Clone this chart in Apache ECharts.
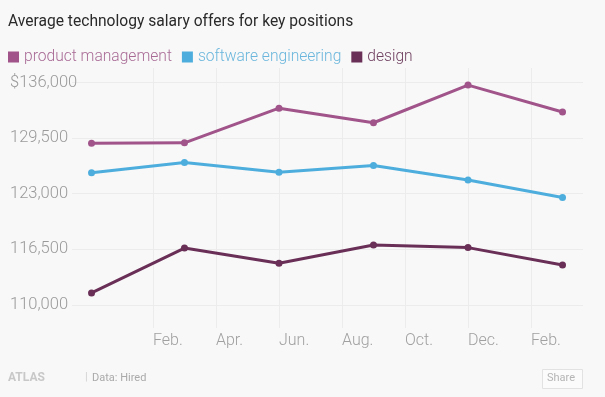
<!DOCTYPE html>
<html>
<head>
<meta charset="utf-8">
<script src="https://cdn.jsdelivr.net/npm/echarts@6/dist/echarts.min.js"></script>
<style>
  html, body { margin: 0; padding: 0; background: #f8f8f8; }
  #chart { width: 605px; height: 397px; }
</style>
</head>
<body>
<div id="chart"></div>
<script>
  // months counted from Dec. of the first year (Feb. = 2)
  var months = [0.05, 3, 6, 9, 12, 15];
  var productManagement = [128900, 128950, 133000, 131300, 135700, 132550];
  var softwareEngineering = [125450, 126650, 125520, 126300, 124600, 122570];
  var design = [111400, 116650, 114870, 117000, 116700, 114670];

  var monthTicks = [2, 4, 6, 8, 10, 12, 14];
  var monthNames = {2: 'Feb.', 4: 'Apr.', 6: 'Jun.', 8: 'Aug.', 10: 'Oct.', 12: 'Dec.', 14: 'Feb.'};
  var salaryTicks = [110000, 116500, 123000, 129500, 136000];

  var colors = {
    pm: '#a0548a',
    sw: '#4daedd',
    design: '#6a2f57'
  };

  function pairs(vals) {
    return vals.map(function (v, i) { return [months[i], v]; });
  }

  var font = 'Roboto, "Noto Sans", sans-serif';

  var myChart = echarts.init(document.getElementById('chart'));
  myChart.setOption({
    backgroundColor: '#f8f8f8',
    animation: false,
    title: {
      text: 'Average technology salary offers for key positions',
      left: 3,
      top: 9,
      textStyle: {fontFamily: font, fontSize: 15.6, fontWeight: 'normal', color: '#2a2a2a'}
    },
    legend: {
      left: 3,
      top: 44,
      icon: 'rect',
      itemWidth: 11,
      itemHeight: 11,
      itemGap: 10,
      textStyle: {fontFamily: font, fontSize: 15.6, fontWeight: 300, padding: [0, 0, 0, 0]},
      data: [
        {name: 'product management', textStyle: {color: '#a86a95'}},
        {name: 'software engineering', textStyle: {color: '#6ab6dc'}},
        {name: 'design', textStyle: {color: '#6f4060'}}
      ]
    },
    grid: {left: 72, right: 22, top: 68, bottom: 69},
    xAxis: {
      type: 'value',
      min: -0.57,
      max: 15.65,
      axisLine: {show: false},
      axisTick: {show: false, customValues: monthTicks},
      splitLine: {show: true, lineStyle: {color: '#ececec', width: 1}},
      axisLabel: {
        customValues: monthTicks,
        align: 'left',
        margin: 5,
        fontFamily: font,
        fontSize: 16,
        fontWeight: 300,
        color: '#a0a0a0',
        formatter: function (v) { return monthNames[v] || ''; }
      }
    },
    yAxis: {
      type: 'value',
      min: 107300,
      max: 137700,
      axisLine: {show: false},
      axisTick: {show: false, customValues: salaryTicks},
      splitLine: {show: true, lineStyle: {color: '#ececec', width: 1}},
      axisLabel: {
        customValues: salaryTicks,
        align: 'left',
        margin: 62,
        fontFamily: font,
        fontSize: 16.5,
        fontWeight: 300,
        color: '#9a9a9a',
        formatter: function (v) {
          var s = v.toLocaleString('en-US');
          return v === 136000 ? '$' + s : s;
        }
      }
    },
    series: [
      {
        name: 'product management',
        type: 'line',
        data: pairs(productManagement),
        color: colors.pm,
        symbol: 'circle',
        symbolSize: 7,
        lineStyle: {width: 3}
      },
      {
        name: 'software engineering',
        type: 'line',
        data: pairs(softwareEngineering),
        color: colors.sw,
        symbol: 'circle',
        symbolSize: 7,
        lineStyle: {width: 3}
      },
      {
        name: 'design',
        type: 'line',
        data: pairs(design),
        color: colors.design,
        symbol: 'circle',
        symbolSize: 7,
        lineStyle: {width: 3}
      }
    ],
    graphic: [
      {
        type: 'text', left: 8, top: 372,
        style: {text: 'ATLAS', fill: '#c8c8c8', font: 'bold 12px ' + font}
      },
      {
        type: 'text', left: 85, top: 372,
        style: {text: '|', fill: '#d0d0d0', font: '11px ' + font}
      },
      {
        type: 'text', left: 92, top: 373,
        style: {text: 'Data: Hired', fill: '#aaaaaa', font: '11px ' + font}
      },
      {
        type: 'rect', left: 542, top: 369,
        shape: {width: 40, height: 19},
        style: {fill: '#fbfbfb', stroke: '#e2e2e2', lineWidth: 1}
      },
      {
        type: 'text', left: 547, top: 373,
        style: {text: 'Share', fill: '#b5b5b5', font: '11px ' + font}
      }
    ]
  });
</script>
</body>
</html>
